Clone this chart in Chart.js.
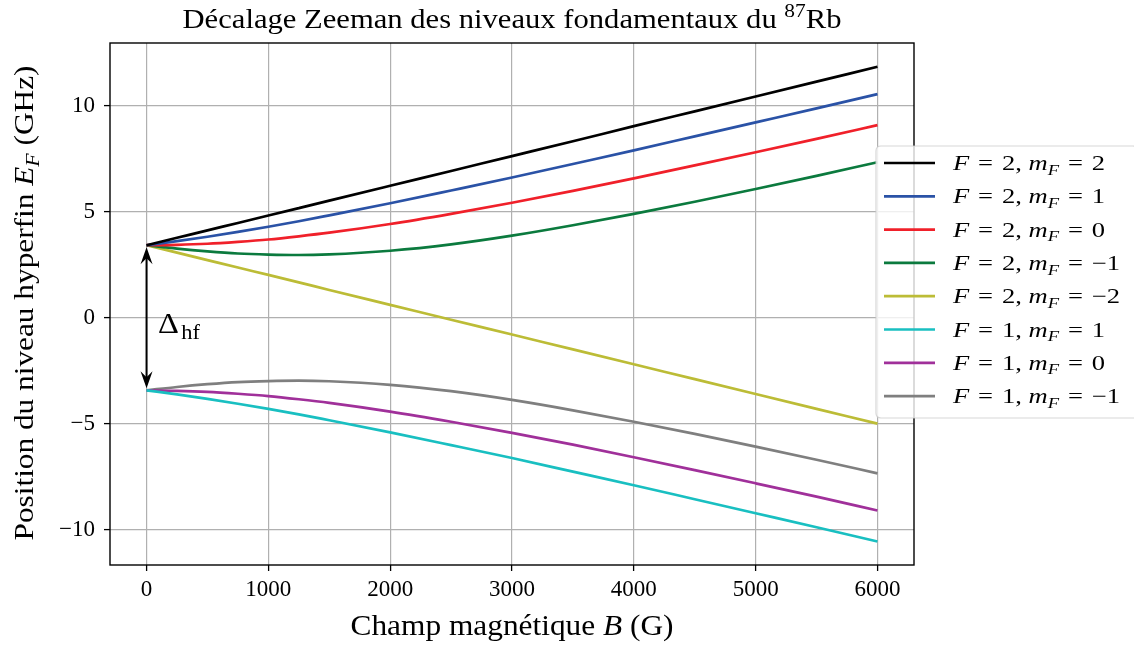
<!DOCTYPE html>
<html>
<head>
<meta charset="utf-8">
<script src="https://cdn.jsdelivr.net/npm/chart.js@4.4.1/dist/chart.umd.min.js"></script>
<style>
html,body{margin:0;padding:0;background:#fff;}
#wrap{width:1134px;height:648px;position:relative;}
</style>
</head>
<body>
<div id="wrap"><canvas id="c" width="1134" height="648"></canvas></div>
<script>
// ---- data ----
const fieldB = [0,250,500,750,1000,1250,1500,2000,2500,3000,3500,4000,4500,5000,5500,6000];
const F2_m2  = [3.42,3.77,4.12,4.47,4.82,5.17,5.52,6.22,6.92,7.62,8.32,9.03,9.73,10.43,11.13,11.83];
const F2_m1  = [3.42,3.61,3.82,4.05,4.29,4.55,4.83,5.40,6.00,6.61,7.25,7.89,8.55,9.21,9.87,10.54];
const F2_m0  = [3.42,3.44,3.49,3.58,3.69,3.84,4.01,4.42,4.90,5.42,5.98,6.57,7.18,7.80,8.43,9.08];
const F2_mm1 = [3.42,3.26,3.13,3.03,2.98,2.96,2.99,3.16,3.46,3.87,4.36,4.90,5.47,6.07,6.69,7.33];
const F2_mm2 = [3.42,3.07,2.72,2.37,2.02,1.67,1.31,0.61,-0.09,-0.79,-1.49,-2.19,-2.89,-3.59,-4.29,-4.99];
const F1_m1  = [-3.42,-3.61,-3.82,-4.05,-4.29,-4.55,-4.83,-5.40,-6.00,-6.61,-7.25,-7.89,-8.55,-9.21,-9.87,-10.54];
const F1_m0  = [-3.42,-3.44,-3.49,-3.58,-3.69,-3.84,-4.01,-4.42,-4.90,-5.42,-5.98,-6.57,-7.18,-7.80,-8.43,-9.08];
const F1_mm1 = [-3.42,-3.26,-3.13,-3.03,-2.98,-2.96,-2.99,-3.16,-3.46,-3.87,-4.36,-4.90,-5.47,-6.07,-6.69,-7.33];

const seriesF  = [2,2,2,2,2,1,1,1];
const seriesMF = ['2','1','0','\u22121','\u22122','1','0','\u22121'];
const seriesValues = [F2_m2,F2_m1,F2_m0,F2_mm1,F2_mm2,F1_m1,F1_m0,F1_mm1];
const seriesColors = ['#000000','#2a52a6','#f0202a','#0b7a3e','#bcbc36','#19bfc1','#a0309a','#7f7f7f'];

const xTicks = [0,1000,2000,3000,4000,5000,6000];
const yTicks = [-10,-5,0,5,10];
const xRange = [-300,6300];
const yRange = [-11.65,12.95];

// hyperfine splitting arrow (B = 0, between the two zero-field levels)
const arrowB = 0, arrowTop = 3.42, arrowBottom = -3.42;
const deltaLabelPos = [95, -0.2];

const titleText = 'Décalage Zeeman des niveaux fondamentaux du ';
const xTitleText = 'Champ magnétique ';
const yTitleText = 'Position du niveau hyperfin ';

// ---- chart ----
const SERIF = '"Liberation Serif", "DejaVu Serif", serif';
const datasets = seriesValues.map((vals,i)=>({
  label: 'F = '+seriesF[i]+', m_F = '+seriesMF[i],
  data: fieldB.map((b,j)=>({x:b, y:vals[j]})),
  borderColor: seriesColors[i],
  backgroundColor: seriesColors[i],
  borderWidth: 2.7,
  pointRadius: 0,
  cubicInterpolationMode: 'monotone',
  fill: false
}));

function fontStr(size,it){ return (it?'italic ':'')+size+'px '+SERIF; }
function richWidth(ctx, parts, base){
  let w=0;
  for(const p of parts){ const s=(p.sub||p.sup)?base*0.7:base; ctx.font=fontStr(s,p.it); w+=ctx.measureText(p.t).width; }
  return w;
}
function drawRich(ctx, parts, x, y, base, align, targetW, sxFixed){
  const w = richWidth(ctx, parts, base);
  const sx = sxFixed || (targetW ? targetW/w : 1);
  ctx.save();
  ctx.translate(x,y); ctx.scale(sx,1);
  let cx = align==='center' ? -w/2 : (align==='right' ? -w : 0);
  ctx.textBaseline='alphabetic'; ctx.textAlign='left'; ctx.fillStyle='#000';
  for(const p of parts){
    const s=(p.sub||p.sup)?base*0.7:base;
    ctx.font=fontStr(s,p.it);
    const dy = p.sub? base*0.22 : (p.sup? -base*0.42 : 0);
    ctx.fillText(p.t, cx, dy);
    cx += ctx.measureText(p.t).width;
  }
  ctx.restore();
  return sx;
}
function arrowHead(ctx, x, yTip, dir){
  const L=17, W=6, notch=6;
  ctx.beginPath();
  ctx.moveTo(x, yTip);
  ctx.lineTo(x-W, yTip - dir*L);
  ctx.lineTo(x, yTip - dir*(L-notch));
  ctx.lineTo(x+W, yTip - dir*L);
  ctx.closePath();
  ctx.fill();
}
const SP = '\u2004';
function legendParts(i){
  return [{t:'F',it:true},{t:SP+'='+SP+seriesF[i]+', '},{t:'m',it:true},{t:'F',it:true,sub:true},{t:SP+'='+SP+seriesMF[i]}];
}

const overlay = {
  id:'overlay',
  afterDraw(chart){
    const ctx=chart.ctx, a=chart.chartArea, xs=chart.scales.x, ys=chart.scales.y;
    ctx.save();
    // frame
    ctx.strokeStyle='#000'; ctx.lineWidth=1.4;
    ctx.strokeRect(a.left, a.top, a.right-a.left, a.bottom-a.top);
    // arrow
    const ax=xs.getPixelForValue(arrowB), y1=ys.getPixelForValue(arrowTop), y2=ys.getPixelForValue(arrowBottom);
    ctx.strokeStyle='#000'; ctx.fillStyle='#000'; ctx.lineWidth=2;
    ctx.beginPath(); ctx.moveTo(ax, y1+8); ctx.lineTo(ax, y2-8); ctx.stroke();
    arrowHead(ctx, ax, y1+2, -1);
    arrowHead(ctx, ax, y2-2, 1);
    // Δhf label
    const lx=xs.getPixelForValue(deltaLabelPos[0]), ly=ys.getPixelForValue(deltaLabelPos[1]);
    ctx.fillStyle='#000'; ctx.textBaseline='alphabetic'; ctx.textAlign='left';
    ctx.save(); ctx.translate(lx, ly+11); ctx.scale(1.12,1);
    ctx.font=fontStr(29,false);
    ctx.fillText('\u0394', 0, 0);
    const dw=ctx.measureText('\u0394').width;
    ctx.font=fontStr(20,false);
    ctx.fillText('hf', dw+2, 6);
    ctx.restore();
    // title
    const cx=(a.left+a.right)/2;
    drawRich(ctx,[{t:titleText},{t:'87',sup:true},{t:'Rb'}], cx, 28, 27, 'center', 659);
    // x title
    drawRich(ctx,[{t:xTitleText},{t:'B',it:true},{t:' (G)'}], cx, 635, 29, 'center', 323);
    // y title
    ctx.save(); ctx.translate(33,(a.top+a.bottom)/2 - 1); ctx.rotate(-Math.PI/2);
    drawRich(ctx,[{t:yTitleText},{t:'E',it:true},{t:'F',it:true,sub:true},{t:' (GHz)'}], 0, 0, 28, 'center', 475);
    ctx.restore();
    // legend
    const lgX=876, lgY=146, lgW=262, lgH=272, r=5;
    ctx.beginPath();
    ctx.moveTo(lgX+r,lgY); ctx.lineTo(lgX+lgW-r,lgY); ctx.quadraticCurveTo(lgX+lgW,lgY,lgX+lgW,lgY+r);
    ctx.lineTo(lgX+lgW,lgY+lgH-r); ctx.quadraticCurveTo(lgX+lgW,lgY+lgH,lgX+lgW-r,lgY+lgH);
    ctx.lineTo(lgX+r,lgY+lgH); ctx.quadraticCurveTo(lgX,lgY+lgH,lgX,lgY+lgH-r);
    ctx.lineTo(lgX,lgY+r); ctx.quadraticCurveTo(lgX,lgY,lgX+r,lgY); ctx.closePath();
    ctx.fillStyle='rgba(255,255,255,0.8)'; ctx.fill();
    ctx.strokeStyle='rgba(204,204,204,0.8)'; ctx.lineWidth=1.2; ctx.stroke();
    const legSx = 152 / richWidth(ctx, legendParts(0), 21);
    chart.data.datasets.forEach((ds,i)=>{
      const yy = lgY+17+i*33.3;
      ctx.strokeStyle=ds.borderColor; ctx.lineWidth=2.7;
      ctx.beginPath(); ctx.moveTo(884,yy); ctx.lineTo(935,yy); ctx.stroke();
      drawRich(ctx, legendParts(i), 953, yy+7, 21, 'left', null, legSx);
    });
    ctx.restore();
  }
};

new Chart(document.getElementById('c'), {
  type:'line',
  data:{datasets},
  options:{
    responsive:false, animation:false,
    layout:{padding:{top:43,right:220,left:0,bottom:0}},
    plugins:{legend:{display:false}, tooltip:{enabled:false}},
    scales:{
      x:{type:'linear', min:xRange[0], max:xRange[1],
        afterBuildTicks(s){ s.ticks = xTicks.map(v=>({value:v})); },
        afterFit(s){ s.height=83; },
        border:{display:false},
        grid:{color:'#b0b0b0', lineWidth:1.2, drawTicks:true, tickLength:6, tickColor:'#000', tickWidth:1.3},
        ticks:{color:'#000', font:{family:SERIF,size:23}, padding:5, maxRotation:0, autoSkip:false,
          callback:v=>String(v)}
      },
      y:{type:'linear', min:yRange[0], max:yRange[1],
        afterBuildTicks(s){ s.ticks = yTicks.map(v=>({value:v})); },
        afterFit(s){ s.width=110; },
        border:{display:false},
        grid:{color:'#b0b0b0', lineWidth:1.2, drawTicks:true, tickLength:6, tickColor:'#000', tickWidth:1.3},
        ticks:{color:'#000', font:{family:SERIF,size:23}, padding:9, autoSkip:false,
          callback:v=> v<0 ? '\u2212'+Math.abs(v) : String(v)}
      }
    }
  },
  plugins:[overlay]
});
</script>
</body>
</html>
